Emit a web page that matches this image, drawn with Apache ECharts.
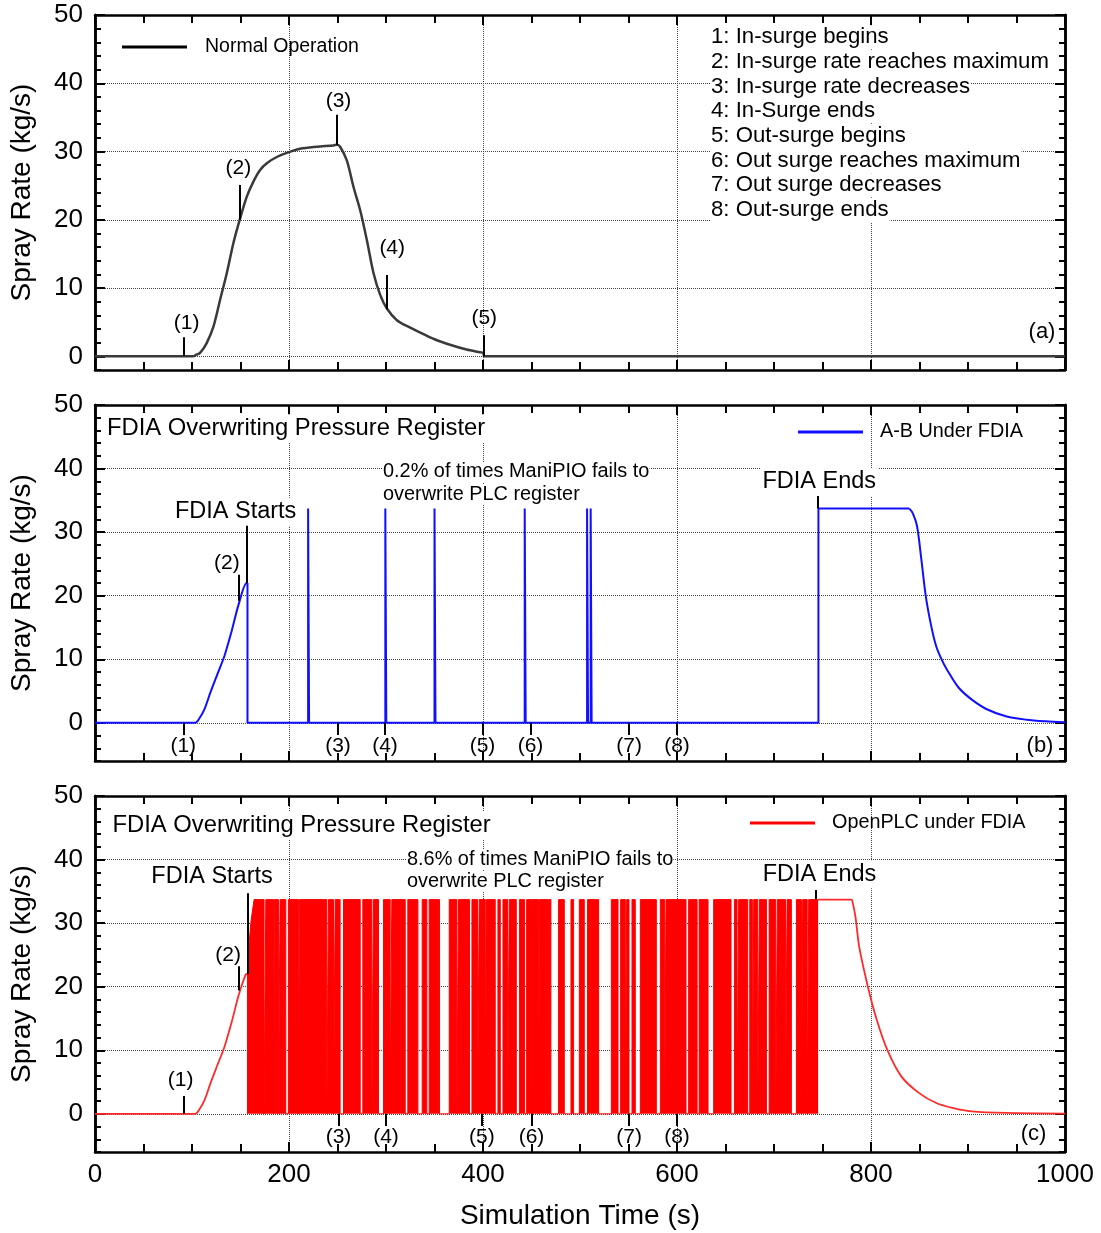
<!DOCTYPE html>
<html>
<head>
<meta charset="utf-8">
<script src="https://cdn.jsdelivr.net/npm/echarts@6/dist/echarts.min.js"></script>
<style>
  html, body { margin: 0; padding: 0; background: #fff; }
  #chart { width: 1101px; height: 1233px; }
</style>
</head>
<body>
<div id="chart"></div>
<script>
const FONT = '"Liberation Sans", Arial, Helvetica, sans-serif';

// ---- axis ticks ----
const yTickValues = [0, 10, 20, 30, 40, 50];
const xTickStep = 200;

// ---- (a) normal operation: [time (s), spray rate (kg/s)] ----
const normalOperation = [
  [0, 0], [101, 0], [104, 0.2], [108.3, 0.5], [115, 1.9], [122, 4.3], [129, 8.3],
  [135.9, 12.2], [142.7, 16.6], [149.6, 20.2], [156.5, 23.4], [163.3, 25.6],
  [170.2, 27.3], [177.1, 28.3], [187.4, 29.2], [197.7, 29.8], [211.5, 30.4],
  [228.7, 30.7], [245.9, 30.9], [249.5, 31.0], [252.7, 30.7], [259.6, 28.7],
  [266.5, 24.8], [273.4, 21.4], [280.3, 17.0], [287.1, 12.2], [294, 9.0],
  [300.9, 7.0], [311.2, 5.3], [325, 4.2], [335, 3.5], [350, 2.5], [366, 1.7],
  [383, 1.0], [397, 0.6], [400.5, 0.5], [401, 0], [1000, 0]
];

// ---- (b) A-B PLC under FDIA ----
const abRise = [
  [0, 0], [103, 0], [108, 0.8], [113, 2.2], [119, 4.8], [126, 7.6], [133.6, 10.6],
  [141, 14.5], [148, 18.6], [156.3, 22], [157.2, 22]
];
const abSpikeTimes = [219.7, 299.3, 350, 443, 507.3, 511];
const abSpikeWidth = 1.0;
const fdiaLevel = 33.7;
const abReleaseTime = 745.8;
const abDecay = [
  [839.5, 33.7], [843, 33.0], [847.4, 31.0], [852, 25.6], [856.5, 19.9], [862, 15.3],
  [867.3, 12.0], [873, 9.9], [878.2, 8.4], [890, 5.6], [903.6, 3.7], [920, 2.1],
  [939.8, 1.0], [960, 0.5], [980, 0.25], [1000, 0.1]
];

// ---- (c) OpenPLC under FDIA ----
const plcRise = [
  [0, 0], [103, 0], [108, 0.8], [113, 2.2], [119, 4.8], [126, 7.6], [133.6, 10.6],
  [141, 14.5], [148, 18.6], [155.3, 21.9], [157.2, 22]
];
const plcRamp = [[157.2, 22], [158.5, 26.3], [161, 30.5], [164, 33.7]];
// intervals [start, end] where the injected value holds the register
const plcBursts = [
  [157.2, 174.3], [176.1, 184], [185, 189.1], [190.8, 196.7], [199.4, 209.7],
  [210.8, 239], [240.7, 245.9], [247.6, 252.7], [256.2, 273.4], [276.1, 285.4],
  [287.1, 292.3], [297.4, 304.3], [306, 319.8], [322.5, 332.9], [337.3, 342.1],
  [344.5, 355.2], [365.2, 373.1], [374.8, 386.1], [388.6, 394.4], [396.1, 402.3],
  [403.3, 412.6], [415.4, 417.8], [420.6, 425.4], [427.1, 434.3], [437.7, 442.9],
  [445, 450.5], [451.1, 457.3], [458.3, 467], [467.6, 470], [477.9, 483.8],
  [490.7, 493.4], [499.3, 504.4], [507.8, 519.2], [532.3, 539.2], [541.9, 546.7],
  [548.1, 550.5], [553.6, 557], [562.2, 578.7], [582.8, 587.3], [588.7, 609.3],
  [612, 620.7], [622.8, 632], [637.8, 655.7], [659.2, 661.9], [663.6, 672.9],
  [675, 677.7], [679.1, 683.2], [685, 692.2], [695, 701.8], [703.5, 711.8],
  [713.5, 717.9], [723.1, 728.3], [729.6, 734.2], [735.8, 745.5]
];
const plcDecay = [
  [780.5, 33.7], [784, 31.0], [787.8, 26.3], [796.8, 20.0], [805.9, 14.8],
  [816.7, 10.1], [831.2, 5.9], [849.3, 3.3], [867.3, 1.7], [885, 0.9],
  [903.5, 0.4], [940, 0.15], [1000, 0.05]
];

// ---- event markers [time, from, to] and labels [text, time, value] ----
const markersA = [[91, 0, 2.8], [149.6, 20, 25.1], [249.3, 31, 35.4], [300.9, 6.9, 11.9], [401, 0, 3.1]];
const labelsA = [['(1)', 94.5, 4.9], ['(2)', 147.8, 27.6], ['(3)', 251, 37.4], ['(4)', 306.4, 15.9], ['(5)', 401.3, 5.6]];

const markersB = [[91, 0, -1.9], [148.2, 19.2, 23.3], [156.3, 22, 31.4], [250.5, 0, -1.9], [299, 0, -1.9],
  [399.5, 0, -1.9], [449, 0, -1.9], [550.7, 0, -1.9], [600, 0, -1.9], [745.5, 33.7, 35.7]];
const labelsB = [['(1)', 91, -3.75], ['(2)', 136, 25.1], ['(3)', 250.5, -3.75], ['(4)', 299, -3.75],
  ['(5)', 399.5, -3.75], ['(6)', 449, -3.75], ['(7)', 550.7, -3.75], ['(8)', 600, -3.75]];
const calloutsB = [['FDIA Starts', 145, 33.2], ['FDIA Ends', 746.7, 37.9]];

const markersC = [[91, 0, 2.8], [148.2, 19.4, 23.2], [157, 22, 34.7], [251, 0, -1.9], [300, 0, -1.9],
  [398.8, 0, -1.9], [450, 0, -1.9], [550.7, 0, -1.9], [600, 0, -1.9], [743.2, 33.7, 35.2]];
const labelsC = [['(1)', 88.3, 5.3], ['(2)', 137.2, 25], ['(3)', 251, -3.75], ['(4)', 300, -3.75],
  ['(5)', 398.8, -3.75], ['(6)', 450, -3.75], ['(7)', 550.7, -3.75], ['(8)', 600, -3.75]];
const calloutsC = [['FDIA Starts', 120.7, 37.4], ['FDIA Ends', 746.9, 37.7]];

const eventList = [
  '1: In-surge begins',
  '2: In-surge rate reaches maximum',
  '3: In-surge rate decreases',
  '4: In-Surge ends',
  '5: Out-surge begins',
  '6: Out surge reaches maximum',
  '7: Out surge decreases',
  '8: Out-surge ends'
];

// ---- build step paths ----
function buildABSteps() {
  const last = abRise[abRise.length - 1];
  const pts = [last, [last[0], 0]];
  abSpikeTimes.forEach(t => {
    pts.push([t, 0], [t, fdiaLevel], [t + abSpikeWidth, fdiaLevel], [t + abSpikeWidth, 0]);
  });
  pts.push([abReleaseTime, 0], [abReleaseTime, fdiaLevel], abDecay[0]);
  return pts;
}
function buildBursts() {
  const pts = [];
  plcBursts.forEach(([s, e], i) => {
    pts.push([s, 0]);
    if (i === 0) plcRamp.forEach(p => pts.push(p));
    else pts.push([s, fdiaLevel]);
    pts.push([e, fdiaLevel]);
    if (i < plcBursts.length - 1) pts.push([e, 0]);
  });
  return pts;
}
function buildPlcHold() {
  const last = plcBursts[plcBursts.length - 1];
  return [[last[1], fdiaLevel], plcDecay[0]];
}

// ---- styling helpers ----
const tickLine = { color: '#000', width: 2 };
const frameLine = { show: true, onZero: false, lineStyle: { color: '#000', width: 2.5 } };
function markLineOf(list) {
  return {
    silent: true, symbol: ['none', 'none'], animation: false,
    label: { show: false },
    lineStyle: { color: '#000', width: 2, type: 'solid' },
    emphasis: { disabled: true },
    data: list.map(([t, a, b]) => [{ coord: [t, a] }, { coord: [t, b] }])
  };
}
function markPointOf(small, big) {
  const items = small.map(([txt, t, v]) => ({ name: txt, coord: [t, v] }));
  (big || []).forEach(([txt, t, v]) => items.push({
    name: txt, coord: [t, v],
    label: { fontSize: 23.5, backgroundColor: '#fff', padding: [2, 2] }
  }));
  return {
    silent: true, animation: false, symbol: 'circle', symbolSize: 1,
    itemStyle: { color: 'rgba(0,0,0,0)' },
    label: { show: true, position: 'inside', formatter: '{b}', color: '#000', fontSize: 21, fontFamily: FONT },
    data: items
  };
}

const grids = [
  { left: 95, top: 15, width: 970, height: 355, min: -2 },
  { left: 95, top: 405, width: 970, height: 356, min: -6 },
  { left: 95, top: 796, width: 970, height: 356, min: -6 }
];

const xAxes = [];
const yAxes = [];
grids.forEach((g, i) => {
  const last = i === grids.length - 1;
  ['bottom', 'top'].forEach(pos => {
    xAxes.push({
      gridIndex: i, type: 'value', min: 0, max: 1000, interval: xTickStep, position: pos,
      axisLine: frameLine,
      axisTick: { show: true, inside: true, length: 10, lineStyle: tickLine },
      minorTick: { show: true, splitNumber: 4, length: 8, lineStyle: tickLine },
      axisLabel: {
        show: last && pos === 'bottom', margin: 10, fontSize: 26, color: '#000', fontFamily: FONT,
        formatter: v => String(v)
      },
      splitLine: { show: pos === 'bottom', lineStyle: { color: '#444', type: 'dotted', width: 1 } },
      name: (last && pos === 'bottom') ? 'Simulation Time (s)' : '', nameLocation: 'middle', nameGap: 50,
      nameTextStyle: { fontSize: 28, color: '#000', fontFamily: FONT }
    });
  });
  const common = { gridIndex: i, type: 'value', min: g.min, max: 50 };
  ['left', 'right'].forEach(pos => {
    yAxes.push({
      ...common, position: pos,
      name: pos === 'left' ? 'Spray Rate (kg/s)' : '', nameLocation: 'middle', nameGap: 59,
      nameTextStyle: { fontSize: 28, color: '#000', fontFamily: FONT },
      axisLine: frameLine,
      axisTick: { show: true, inside: true, length: 10, customValues: yTickValues, lineStyle: tickLine },
      axisLabel: { show: pos === 'left', customValues: yTickValues, margin: 12, fontSize: 26, color: '#000', fontFamily: FONT },
      splitLine: { show: pos === 'left', lineStyle: { color: '#444', type: 'dotted', width: 1 } }
    });
    yAxes.push({
      ...common, position: pos, interval: 2,
      axisLine: frameLine,
      axisTick: { show: true, inside: true, length: 6, lineStyle: tickLine },
      axisLabel: { show: false }, splitLine: { show: false }
    });
  });
});

const legendBase = {
  icon: 'rect', itemWidth: 65, itemHeight: 3, padding: 0, selectedMode: false,
  textStyle: { color: '#000', fontFamily: FONT, fontSize: 19.8, padding: [0, 0, 0, 12] }
};

function textEl(x, y, text, size, opts) {
  return {
    type: 'text', x: x, y: y, z: 50,
    style: Object.assign({
      text: text, fontSize: size, fontFamily: FONT, fill: '#000',
      verticalAlign: 'middle', align: 'left'
    }, opts || {})
  };
}

const graphics = [];
eventList.forEach((s, i) => graphics.push(textEl(710, 37.3 + i * 24.67, s, 22.2, { backgroundColor: '#fff', padding: [1, 1] })));
graphics.push(textEl(105, 428.3, 'FDIA Overwriting Pressure Register', 23.8, { backgroundColor: '#fff', padding: [2, 2] }));
graphics.push(textEl(383, 472, '0.2% of times ManiPIO fails to', 19.9, { backgroundColor: '#fff' }));
graphics.push(textEl(383, 495, 'overwrite PLC register', 19.9, { backgroundColor: '#fff' }));
graphics.push(textEl(110.5, 825, 'FDIA Overwriting Pressure Register', 23.8, { backgroundColor: '#fff', padding: [2, 2] }));
graphics.push(textEl(407, 860, '8.6% of times ManiPIO fails to', 19.9, { backgroundColor: '#fff' }));
graphics.push(textEl(407, 881.5, 'overwrite PLC register', 19.9, { backgroundColor: '#fff' }));
graphics.push(textEl(1042, 332, '(a)', 22, { align: 'center' }));
graphics.push(textEl(1040, 745.5, '(b)', 22, { align: 'center' }));
graphics.push(textEl(1033.5, 1134, '(c)', 22, { align: 'center' }));

function curve(name, xi, yi, data, color, width, extra) {
  return Object.assign({
    type: 'line', name: name, xAxisIndex: xi, yAxisIndex: yi,
    data: data, symbol: 'none', showSymbol: false, silent: true, smooth: 0.3,
    color: color, lineStyle: { color: color, width: width }
  }, extra || {});
}
function steps(name, xi, yi, data, color, width, extra) {
  return Object.assign({
    type: 'line', name: name, xAxisIndex: xi, yAxisIndex: yi,
    data: data, symbol: 'none', showSymbol: false, silent: true, smooth: false,
    color: color, lineStyle: { color: color, width: width }
  }, extra || {});
}

const chart = echarts.init(document.getElementById('chart'), null, { renderer: 'canvas' });
chart.setOption({
  animation: false,
  backgroundColor: '#fff',
  grid: grids.map(g => ({
    left: g.left, top: g.top, width: g.width, height: g.height,
    show: false, outerBoundsMode: 'none', containLabel: false
  })),
  xAxis: xAxes,
  yAxis: yAxes,
  legend: [
    Object.assign({}, legendBase, { data: ['Normal Operation'], left: 122, top: 37,
      textStyle: Object.assign({}, legendBase.textStyle, { fontSize: 19.5, padding: [0, 0, 0, 13] }) }),
    Object.assign({}, legendBase, { data: ['A-B Under FDIA'], left: 798, top: 422 }),
    Object.assign({}, legendBase, { data: ['OpenPLC under FDIA'], left: 750, top: 813 })
  ],
  graphic: graphics,
  series: [
    curve('Normal Operation', 0, 0, normalOperation, '#3a3a3a', 2.5,
      { color: '#000', lineStyle: { color: '#3a3a3a', width: 2.5 },
        markLine: markLineOf(markersA), markPoint: markPointOf(labelsA) }),
    curve('A-B Under FDIA', 2, 4, abRise, '#1010ff', 2,
      { markLine: markLineOf(markersB), markPoint: markPointOf(labelsB, calloutsB) }),
    steps('A-B Under FDIA', 2, 4, buildABSteps(), '#1010ff', 2),
    curve('A-B Under FDIA', 2, 4, abDecay, '#1010ff', 2),
    curve('OpenPLC under FDIA', 4, 8, plcRise, '#ff2a2a', 1.8,
      { color: '#ff0000', lineStyle: { color: '#ff2a2a', width: 1.8 },
        markLine: markLineOf(markersC), markPoint: markPointOf(labelsC, calloutsC) }),
    steps('OpenPLC under FDIA', 4, 8, buildBursts(), '#ff0000', 1,
      { areaStyle: { color: '#ff0000', opacity: 1, origin: 0 } }),
    steps('OpenPLC under FDIA', 4, 8, buildPlcHold(), '#ff2a2a', 1.8, { color: '#ff0000' }),
    curve('OpenPLC under FDIA', 4, 8, plcDecay, '#ff2a2a', 1.8, { color: '#ff0000' })
  ]
});
</script>
</body>
</html>
